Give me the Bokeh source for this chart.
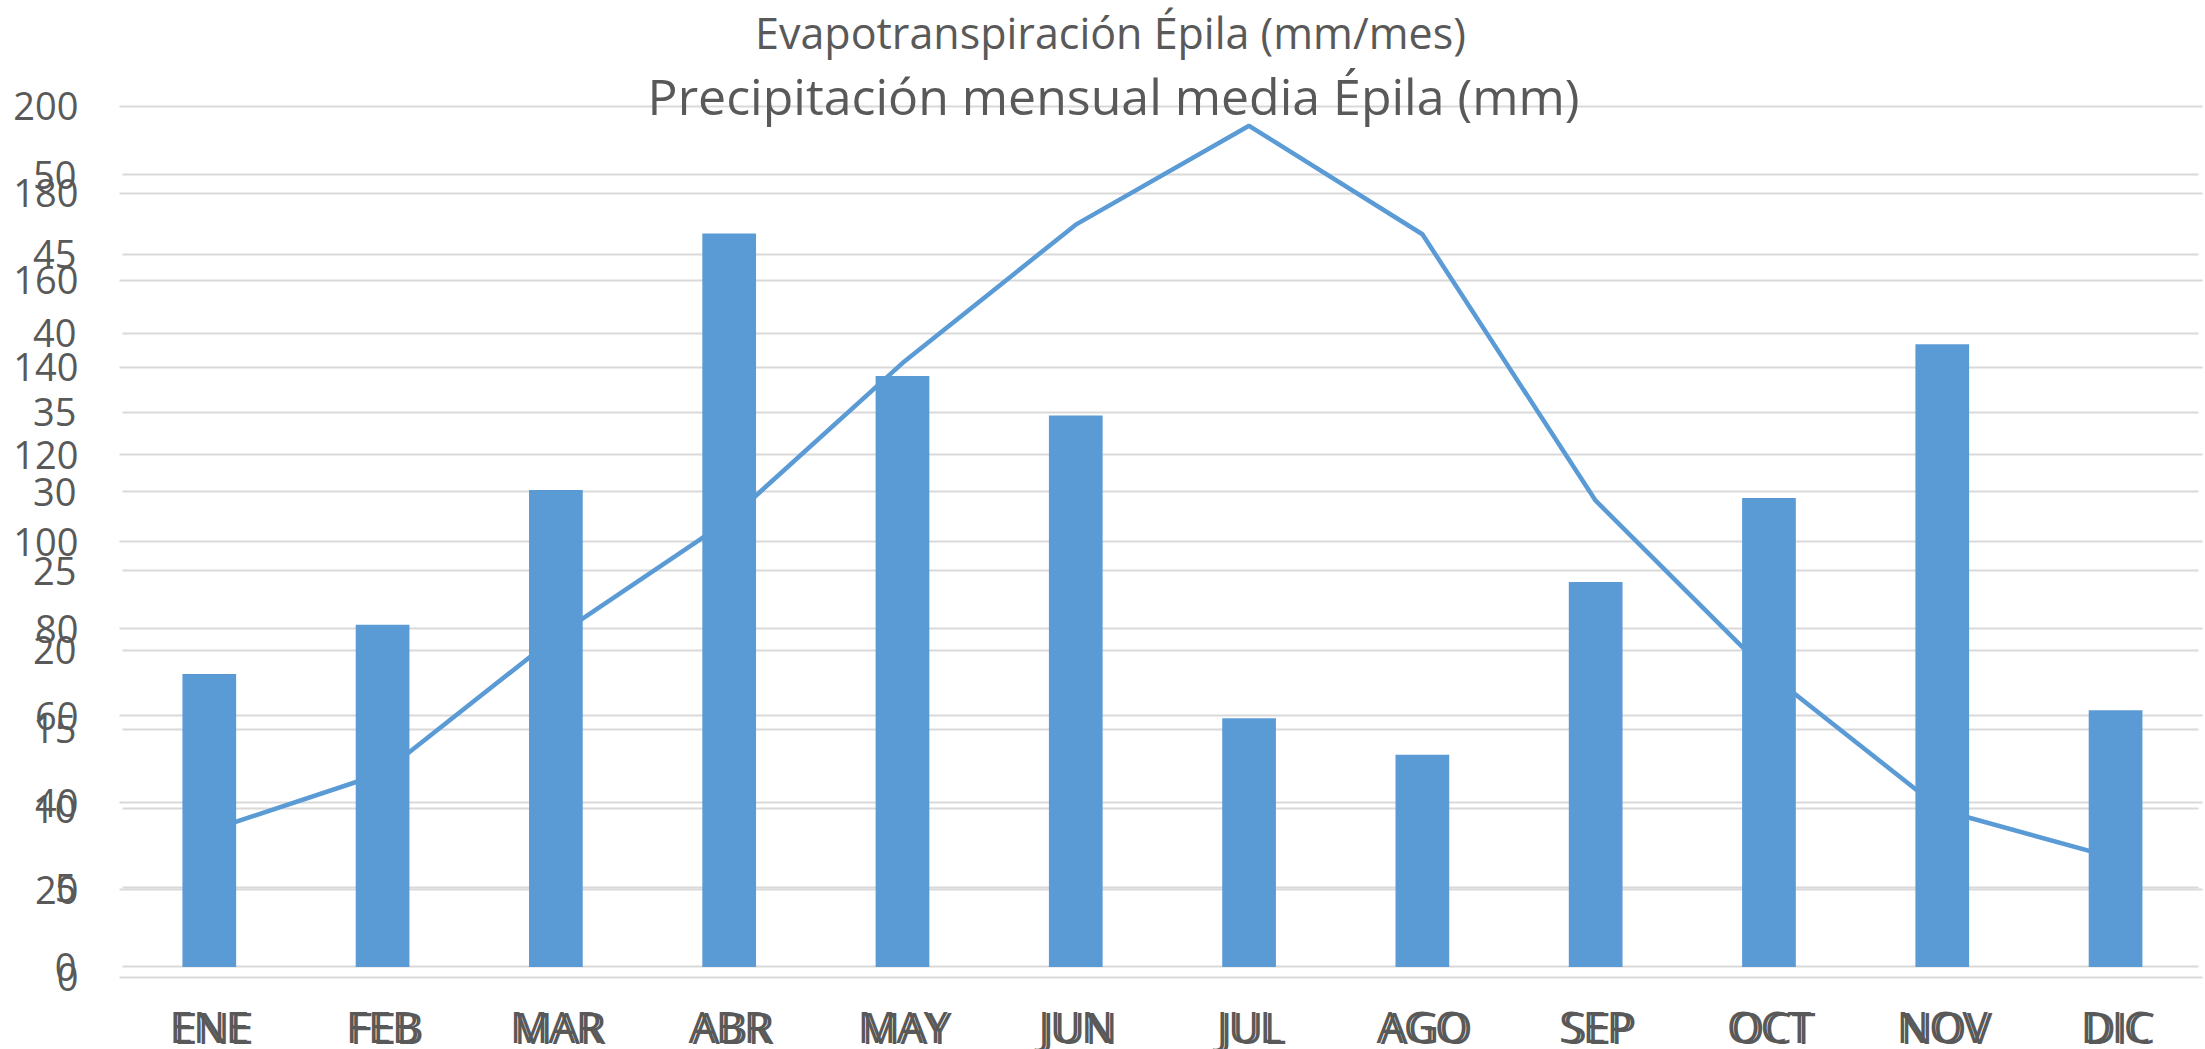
from bokeh.plotting import figure
from bokeh.models import Range1d, LinearAxis, Grid, FixedTicker, Label
from bokeh.embed import file_html
from bokeh.resources import INLINE

# ---- data ----
months = ["ENE", "FEB", "MAR", "ABR", "MAY", "JUN", "JUL", "AGO", "SEP", "OCT", "NOV", "DIC"]
precip = [18.5, 21.6, 30.1, 46.3, 37.3, 34.8, 15.7, 13.4, 24.3, 29.6, 39.3, 16.2]   # mm
etp = [33.6, 46.8, 78.2, 105.0, 141.0, 172.8, 195.5, 170.6, 109.4, 69.7, 38.3, 27.3]  # mm/mes
etp_ticks = [0, 20, 40, 60, 80, 100, 120, 140, 160, 180, 200]
precip_ticks = [0, 5, 10, 15, 20, 25, 30, 35, 40, 45, 50]
title_etp = "Evapotranspiración Épila (mm/mes)"
title_precip = "Precipitación mensual media Épila (mm)"

month_pos = list(range(len(months)))

# ---- styles ----
BLUE = "#5B9BD5"
GRID = "#D9D9D9"
TXT = "#595959"
FONT = "Open Sans"

W, H = 2205, 1049
X0, X1 = -1.2048, 11.519          # frame covers whole canvas
p = figure(width=W, height=H, output_backend="svg", toolbar_location=None,
           x_range=Range1d(X0, X1),
           y_range=Range1d(-16.65, 224.28),
           x_axis_location=None, y_axis_location=None,
           min_border_left=0, min_border_right=0,
           min_border_top=0, min_border_bottom=0)
p.extra_y_ranges = {"precip": Range1d(-5.207, 61.0)}
# the overlaid line chart's category axis sits a few pixels to the right
p.extra_x_ranges = {"etp_x": Range1d(X0 - 0.025, X1 - 0.025)}
p.outline_line_color = None
p.background_fill_color = "white"
p.border_fill_color = "white"
for g in list(p.grid):
    g.visible = False

# grids
g_etp = Grid(dimension=1, ticker=FixedTicker(ticks=etp_ticks), cross_bounds=(-0.518, 11.50),
             grid_line_color=GRID, grid_line_width=2)
g_pr = Grid(dimension=1, ticker=FixedTicker(ticks=precip_ticks), y_range_name="precip",
            cross_bounds=(-0.501, 11.477), grid_line_color=GRID, grid_line_width=2)
p.add_layout(g_etp)
p.add_layout(g_pr)

# line (behind), bars (front)
p.line(x=month_pos, y=etp, line_color=BLUE, line_width=4.5)
p.vbar(x=month_pos, top=precip, bottom=0, width=0.31, y_range_name="precip",
       fill_color=BLUE, line_color=None)

# axes
def style_axis(ax, size, standoff):
    ax.axis_line_color = None
    ax.major_tick_line_color = None
    ax.minor_tick_line_color = None
    ax.major_tick_out = 0
    ax.major_tick_in = 0
    ax.minor_tick_out = 0
    ax.minor_tick_in = 0
    ax.major_label_text_font = FONT
    ax.major_label_text_font_size = size
    ax.major_label_text_color = TXT
    ax.major_label_standoff = standoff

ax_etp = LinearAxis(ticker=FixedTicker(ticks=etp_ticks), fixed_location=-0.518)
style_axis(ax_etp, "38px", 41)
ax_pr = LinearAxis(ticker=FixedTicker(ticks=precip_ticks), y_range_name="precip",
                   fixed_location=-0.501)
style_axis(ax_pr, "38px", 46)
p.add_layout(ax_etp, "left")
p.add_layout(ax_pr, "left")

labels_map = {i: m for i, m in zip(month_pos, months)}
ax_x = LinearAxis(ticker=FixedTicker(ticks=month_pos), fixed_location=0,
                  major_label_overrides=labels_map)
style_axis(ax_x, "43px", 20)
ax_x.major_label_text_font = "Liberation Sans Narrow, Open Sans"
p.add_layout(ax_x, "below")
ax_x2 = LinearAxis(ticker=FixedTicker(ticks=month_pos), fixed_location=0, x_range_name="etp_x",
                   major_label_overrides=labels_map)
style_axis(ax_x2, "43px", 21)
ax_x2.major_label_text_font = "Liberation Sans Narrow, Open Sans"
p.add_layout(ax_x2, "below")

# titles
p.add_layout(Label(x=5.200, y=216.9, text=title_etp, text_align="center",
                   text_baseline="alphabetic", text_font=FONT, text_font_size="43px",
                   text_color=TXT))
p.add_layout(Label(x=5.218, y=202.3, text=title_precip, text_align="center",
                   text_baseline="alphabetic", text_font=FONT, text_font_size="50px",
                   text_color=TXT))

open("out.html", "w").write(file_html(p, INLINE))
